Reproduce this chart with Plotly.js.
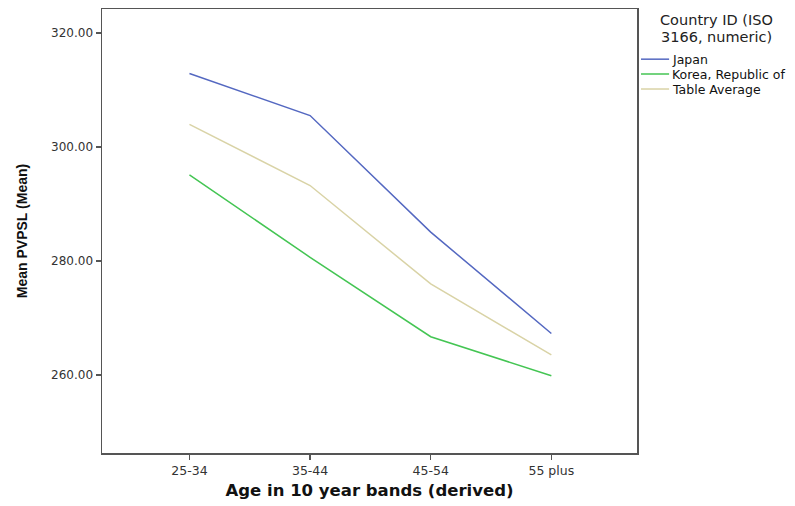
<!DOCTYPE html>
<html>
<head>
<meta charset="utf-8">
<script src="https://cdn.plot.ly/plotly-3.0.1.min.js"></script>
<style>html,body{margin:0;padding:0;background:#fff;}#chart{width:795px;height:506px;}</style>
</head>
<body>
<div id="chart"></div>
<script>
var categories = ["25-34", "35-44", "45-54", "55 plus"];
var japan = [312.87, 305.5, 285.05, 267.27];
var korea = [295.1, 280.63, 266.7, 259.85];
var tableAverage = [303.95, 293.23, 275.96, 263.5];
var seriesNames = ["Japan", "Korea, Republic of", "Table Average"];
var yTicks = [260, 280, 300, 320];
var yTickLabels = ["260.00", "280.00", "300.00", "320.00"];
var legendTitleLines = ["Country ID (ISO", "3166, numeric)"];

var colors = ["#5468c1", "#44c553", "#d9d3a6"];
var series = [japan, korea, tableAverage];
var traces = series.map(function (vals, i) {
  return {
    x: [0, 1, 2, 3],
    y: vals,
    type: "scatter",
    mode: "lines",
    name: seriesNames[i],
    line: {color: colors[i], width: 1.5}
  };
});

// custom legend (positions in paper coords)
var legendY = [0.887, 0.8536, 0.8198];
var titleY = [0.975, 0.937];
var shapes = [];
var annotations = [];
legendTitleLines.forEach(function (t, i) {
  annotations.push({
    xref: "paper", yref: "paper", x: 1.1477, y: titleY[i], xanchor: "center", yanchor: "middle",
    text: t, showarrow: false,
    font: {size: 14.5, color: "#222", family: "DejaVu Sans, sans-serif"}
  });
});
seriesNames.forEach(function (n, i) {
  shapes.push({type: "line", xref: "paper", yref: "paper",
    x0: 1.0075, x1: 1.06, y0: legendY[i], y1: legendY[i],
    line: {color: colors[i], width: 1.5}});
  annotations.push({xref: "paper", yref: "paper", x: 1.062, y: legendY[i],
    xanchor: "left", yanchor: "middle", text: n, showarrow: false,
    font: {size: 12.5, color: "#111", family: "DejaVu Sans, sans-serif"}});
});

var layout = {
  width: 795, height: 506,
  margin: {l: 102, r: 158, t: 9, b: 53},
  paper_bgcolor: "#ffffff",
  plot_bgcolor: "#ffffff",
  font: {family: "DejaVu Sans, sans-serif", color: "#333"},
  showlegend: false,
  xaxis: {
    range: [-0.725, 3.71],
    tickmode: "array", tickvals: [0, 1, 2, 3], ticktext: categories,
    showgrid: false, zeroline: false,
    showline: true, linecolor: "#555", linewidth: 1.5, mirror: true,
    ticks: "outside", ticklen: 5, tickcolor: "#555", tickwidth: 1.5,
    tickfont: {size: 12.5, color: "#333", family: "DejaVu Sans, sans-serif"},
    title: {text: "Age in 10 year bands (derived)", font: {size: 16.5, color: "#111", family: "DejaVu Sans, sans-serif", weight: "bold"}, standoff: 8}
  },
  yaxis: {
    range: [246.3, 324.2],
    tickmode: "array", tickvals: yTicks, ticktext: yTickLabels,
    showgrid: false, zeroline: false,
    showline: true, linecolor: "#555", linewidth: 1.5, mirror: true,
    ticks: "outside", ticklen: 5, tickcolor: "#555", tickwidth: 1.5,
    tickfont: {size: 12, color: "#333", family: "DejaVu Sans, sans-serif"},
    title: {text: "Mean PVPSL (Mean)", font: {size: 14, color: "#111", family: "Liberation Sans, Arial, sans-serif", weight: "bold"}, standoff: 20}
  },
  shapes: shapes,
  annotations: annotations
};

Plotly.newPlot("chart", traces, layout, {displayModeBar: false, staticPlot: true});
</script>
</body>
</html>
